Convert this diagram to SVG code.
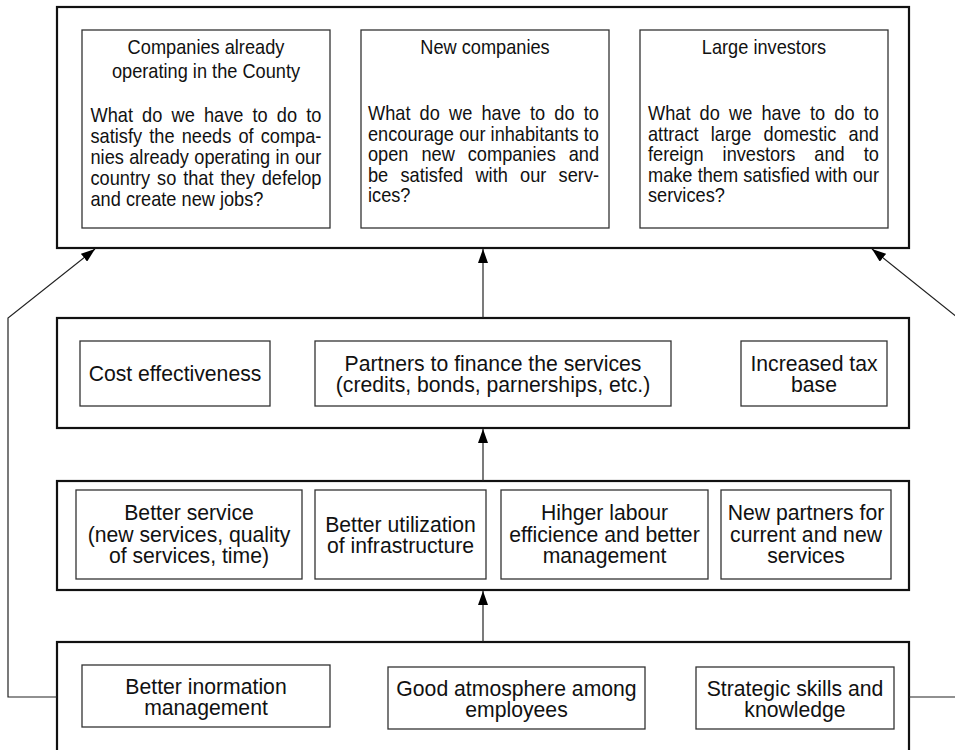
<svg xmlns="http://www.w3.org/2000/svg" width="955" height="750" viewBox="0 0 955 750">
<defs>
<marker id="arr" viewBox="0 0 14 10" refX="14" refY="5" markerWidth="14" markerHeight="10" markerUnits="userSpaceOnUse" orient="auto">
<path d="M0,0 L14,5 L0,10 Z" fill="#000"/>
</marker>
<style>
.outer{fill:#fff;stroke:#111;stroke-width:2.2}
.inner{fill:#fff;stroke:#333;stroke-width:1.3}
.t{font-family:"Liberation Sans",Arial,sans-serif;fill:#111}
.s{font-size:18.2px}
.b{font-size:21.2px;text-anchor:middle}
.c{text-anchor:middle}
.conn{fill:none;stroke:#222;stroke-width:1.2}
</style>
</defs>
<rect width="955" height="750" fill="#fff"/>

<g id="tier-top">
<rect class="outer" x="57" y="7" width="852" height="241"/>
</g>
<g id="node-existing">
<rect class="inner" x="82" y="30" width="248" height="198"/>
<text class="t s c" transform="translate(206,54) scale(1,1.1)">Companies already</text>
<text class="t s c" transform="translate(206,78) scale(1,1.1)">operating in the County</text>
<text class="t s" transform="translate(90.5,121.5) scale(1,1.1)" word-spacing="4.1">What do we have to do to</text>
<text class="t s" transform="translate(90.5,142.5) scale(1,1.1)" word-spacing="2.1">satisfy the needs of compa-</text>
<text class="t s" transform="translate(90.5,163.5) scale(1,1.1)" word-spacing="0.3">nies already operating in our</text>
<text class="t s" transform="translate(90.5,184.5) scale(1,1.1)" word-spacing="1.85">country so that they defelop</text>
<text class="t s" transform="translate(90.5,205.5) scale(1,1.1)">and create new jobs?</text>
</g>
<g id="node-new">
<rect class="inner" x="361" y="30" width="248" height="198"/>
<text class="t s c" transform="translate(485,54) scale(1,1.1)">New companies</text>
<text class="t s" transform="translate(368,120) scale(1,1.1)" word-spacing="4.1">What do we have to do to</text>
<text class="t s" transform="translate(368,140.5) scale(1,1.1)" word-spacing="0.1">encourage our inhabitants to</text>
<text class="t s" transform="translate(368,161) scale(1,1.1)" word-spacing="7.9">open new companies and</text>
<text class="t s" transform="translate(368,181.5) scale(1,1.1)" word-spacing="7.2">be satisfed with our serv-</text>
<text class="t s" transform="translate(368,202) scale(1,1.1)">ices?</text>
</g>
<g id="node-large">
<rect class="inner" x="640" y="30" width="248" height="198"/>
<text class="t s c" transform="translate(764,54) scale(1,1.1)">Large investors</text>
<text class="t s" transform="translate(648,120) scale(1,1.1)" word-spacing="4.1">What do we have to do to</text>
<text class="t s" transform="translate(648,140.5) scale(1,1.1)" word-spacing="7.2">attract large domestic and</text>
<text class="t s" transform="translate(648,161) scale(1,1.1)" word-spacing="13.9">fereign investors and to</text>
<text class="t s" transform="translate(648,181.5) scale(1,1.1)" word-spacing="0.1">make them satisfied with our</text>
<text class="t s" transform="translate(648,202) scale(1,1.1)">services?</text>
</g>

<g id="tier-finance">
<rect class="outer" x="57" y="318" width="852" height="110"/>
</g>
<g id="node-cost">
<rect class="inner" x="80" y="341" width="190" height="65"/>
<text class="t b" x="175" y="381">Cost effectiveness</text>
</g>
<g id="node-partners">
<rect class="inner" x="315" y="341" width="356" height="65"/>
<text class="t b" x="493" y="371">Partners to finance the services</text>
<text class="t b" x="493" y="392">(credits, bonds, parnerships, etc.)</text>
</g>
<g id="node-tax">
<rect class="inner" x="741" y="341" width="146" height="65"/>
<text class="t b" x="814" y="371">Increased tax</text>
<text class="t b" x="814" y="392">base</text>
</g>

<g id="tier-process">
<rect class="outer" x="57" y="481" width="852" height="109"/>
</g>
<g id="node-service">
<rect class="inner" x="76" y="490" width="226" height="89"/>
<text class="t b" x="189" y="520">Better service</text>
<text class="t b" x="189" y="542">(new services, quality</text>
<text class="t b" x="189" y="563">of services, time)</text>
</g>
<g id="node-infra">
<rect class="inner" x="315" y="490" width="171" height="89"/>
<text class="t b" x="400.5" y="532">Better utilization</text>
<text class="t b" x="400.5" y="553">of infrastructure</text>
</g>
<g id="node-labour">
<rect class="inner" x="501" y="490" width="207" height="89"/>
<text class="t b" x="604.5" y="520">Hihger labour</text>
<text class="t b" x="604.5" y="542">efficience and better</text>
<text class="t b" x="604.5" y="563">management</text>
</g>
<g id="node-newpartners">
<rect class="inner" x="721" y="490" width="170" height="89"/>
<text class="t b" x="806" y="520">New partners for</text>
<text class="t b" x="806" y="542">current and new</text>
<text class="t b" x="806" y="563">services</text>
</g>

<g id="tier-learning">
<rect class="outer" x="57" y="642" width="852" height="140"/>
</g>
<g id="node-info">
<rect class="inner" x="82" y="665" width="248" height="62"/>
<text class="t b" x="206" y="694">Better inormation</text>
<text class="t b" x="206" y="715">management</text>
</g>
<g id="node-atmosphere">
<rect class="inner" x="388" y="667" width="257" height="62"/>
<text class="t b" x="516.5" y="696">Good atmosphere among</text>
<text class="t b" x="516.5" y="717">employees</text>
</g>
<g id="node-skills">
<rect class="inner" x="696" y="667" width="198" height="62"/>
<text class="t b" x="795" y="696">Strategic skills and</text>
<text class="t b" x="795" y="717">knowledge</text>
</g>

<g id="connectors">
<path class="conn" d="M483,318 V249" marker-end="url(#arr)"/>
<path class="conn" d="M483,481 V429" marker-end="url(#arr)"/>
<path class="conn" d="M483,642 V591" marker-end="url(#arr)"/>
<path class="conn" d="M57,697 H8 V318 L95,249" marker-end="url(#arr)"/>
<path class="conn" d="M909,697 H958 V318 L872,249" marker-end="url(#arr)"/>
</g>
</svg>
